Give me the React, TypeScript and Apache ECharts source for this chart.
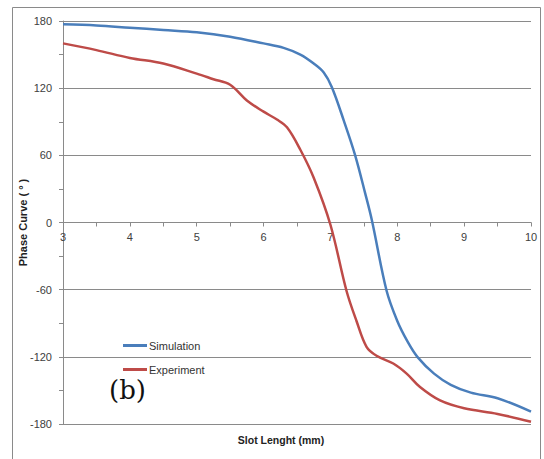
import React, { useEffect, useRef } from "react";
import * as echarts from "echarts";

const simulation: [number, number][] = [
  [3, 177], [3.5, 176], [4, 174], [4.5, 172], [5, 170], [5.5, 166], [6, 160],
  [6.3, 156], [6.55, 150], [6.75, 142], [6.9, 134], [7.02, 121], [7.2, 91], [7.37, 60],
  [7.52, 26], [7.62, 2], [7.84, -61], [8, -88], [8.15, -106], [8.3, -120], [8.55, -135],
  [8.8, -145], [9.1, -152], [9.5, -157], [10, -169],
];

const experiment: [number, number][] = [
  [3, 160], [3.5, 154], [4, 147], [4.5, 142], [5, 133], [5.25, 128], [5.5, 123],
  [5.75, 109], [6, 99], [6.2, 92], [6.35, 85], [6.55, 65], [6.75, 40], [7, -2],
  [7.24, -61], [7.39, -88], [7.54, -111], [7.69, -119], [7.94, -126], [8.14, -135],
  [8.34, -147], [8.64, -159], [9, -166], [9.5, -171], [10, -178],
];

const seriesNames = ["Simulation", "Experiment"];
const xTitle = "Slot Lenght (mm)";
const yTitle = "Phase Curve ( ° )";
const panelLabel = "(b)";

export default function App() {
  const ref = useRef<HTMLDivElement>(null);
  useEffect(() => {
    document.body.style.margin = "0";
    if (!ref.current) return;
    const chart = echarts.init(ref.current, undefined, { renderer: "svg" });
    const grey = "#8a8a8a";
    const labelColor = "#404040";
    const font = "Liberation Sans";
    chart.setOption({
      animation: false,
      backgroundColor: "#fff",
      grid: { left: 63, right: 13, top: 21, bottom: 35 },
      legend: {
        orient: "vertical",
        left: 118,
        top: 335,
        itemWidth: 24,
        itemHeight: 3,
        itemGap: 13,
        icon: "rect",
        textStyle: { fontFamily: font, fontSize: 11, color: "#333", padding: [0, 0, 0, -3] },
        data: seriesNames,
      },
      xAxis: {
        type: "value",
        min: 3,
        max: 10,
        interval: 1,
        position: "bottom",
        offset: -201.5,
        axisLine: { onZero: false, lineStyle: { color: grey, width: 1 } },
        axisTick: { show: true, length: 4, lineStyle: { color: grey } },
        minorTick: { show: true, splitNumber: 2, length: 4, lineStyle: { color: grey } },
        splitLine: { show: false },
        axisLabel: { fontFamily: font, fontSize: 11, color: labelColor, margin: 9 },
      },
      yAxis: {
        type: "value",
        min: -180,
        max: 180,
        interval: 60,
        axisLine: { show: true, lineStyle: { color: grey, width: 1 } },
        axisTick: { show: true, length: 4, lineStyle: { color: grey } },
        minorTick: { show: true, splitNumber: 2, length: 4, lineStyle: { color: grey } },
        splitLine: { show: true, lineStyle: { color: grey, width: 1 } },
        axisLabel: { fontFamily: font, fontSize: 11, color: labelColor, margin: 11 },
        name: yTitle,
        nameLocation: "middle",
        nameGap: 35,
        nameMoveOverlap: false,
        nameTextStyle: { fontFamily: font, fontSize: 11, fontWeight: "bold", color: "#222" },
      },
      graphic: [
        {
          type: "rect",
          shape: { x: 12.5, y: 7.5, width: 528, height: 460 },
          style: { fill: "none", stroke: "#8a8a8a", lineWidth: 1 },
          silent: true,
        },
        {
          type: "text",
          x: 281,
          y: 440,
          style: {
            text: xTitle,
            fontFamily: font,
            fontSize: 10.5,
            fontWeight: "bold",
            fill: "#222",
            align: "center",
            verticalAlign: "middle",
          },
        },
        {
          type: "text",
          x: 109,
          y: 390,
          style: {
            text: panelLabel,
            fontFamily: "DejaVu Serif",
            fontSize: 26,
            fill: "#111",
            align: "left",
            verticalAlign: "middle",
          },
        },
      ],
      series: [
        {
          name: seriesNames[0],
          type: "line",
          data: simulation,
          smooth: 0.35,
          showSymbol: false,
          lineStyle: { color: "#4a7ebb", width: 2.5 },
          itemStyle: { color: "#4a7ebb" },
        },
        {
          name: seriesNames[1],
          type: "line",
          data: experiment,
          smooth: 0.35,
          showSymbol: false,
          lineStyle: { color: "#be4b48", width: 2.5 },
          itemStyle: { color: "#be4b48" },
        },
      ],
    });
    return () => chart.dispose();
  }, []);
  return <div ref={ref} style={{ width: 544, height: 459 }} />;
}
